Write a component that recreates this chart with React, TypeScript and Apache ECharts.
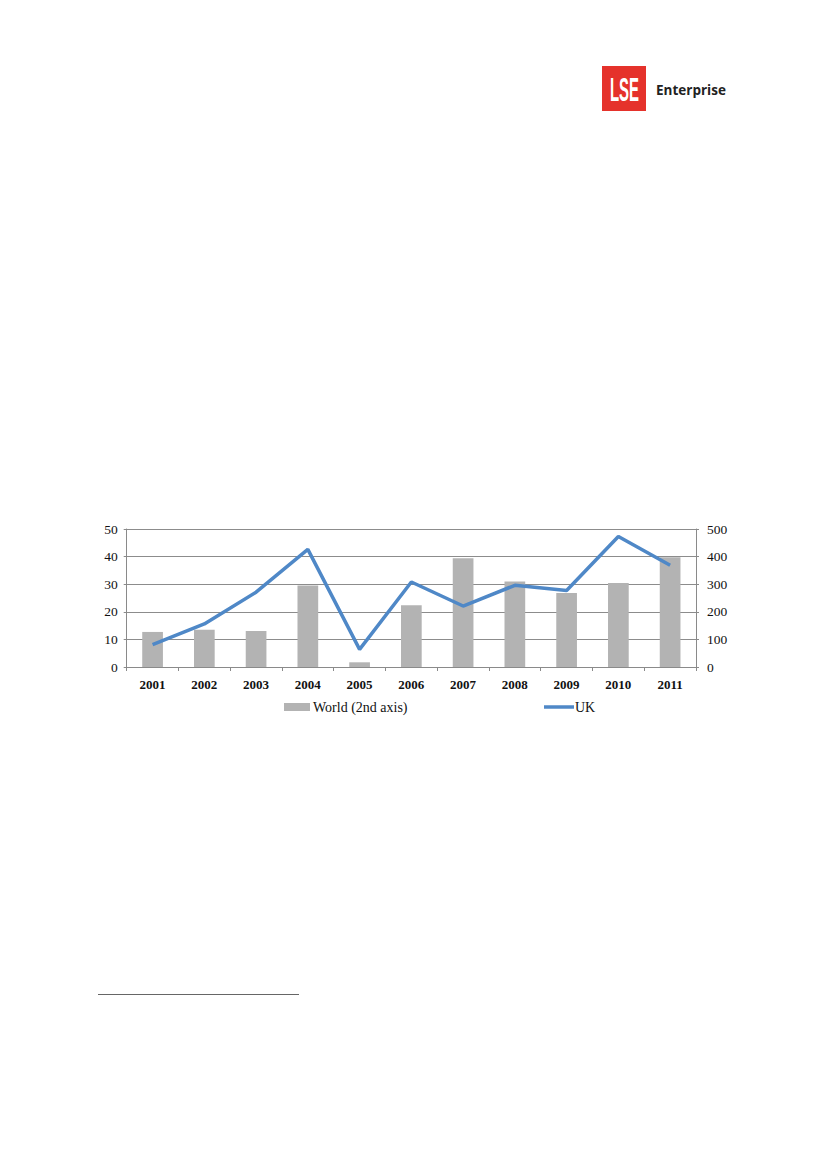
import React, { useEffect, useRef } from "react";
import * as echarts from "echarts";

const years = ["2001", "2002", "2003", "2004", "2005", "2006", "2007", "2008", "2009", "2010", "2011"];
const worldValues = [127, 135, 130, 295, 17, 224, 394, 310, 268, 304, 398];
const ukValues = [8.1, 15.6, 27.1, 42.6, 6.4, 30.8, 22.1, 29.6, 27.7, 47.3, 36.9];
const leftTicks = { min: 0, max: 50, interval: 10 };
const rightTicks = { min: 0, max: 500, interval: 100 };
const legendNames = ["World (2nd axis)", "UK"];

const SERIF = "'Liberation Serif', 'Times New Roman', serif";

export default function App() {
  const ref = useRef<HTMLDivElement>(null);

  useEffect(() => {
    if (!ref.current) return;
    const chart = echarts.init(ref.current, undefined, { renderer: "svg" });
    const labelStyle = { fontFamily: SERIF, fontSize: 13, color: "#111111" };
    chart.setOption({
      animation: false,
      backgroundColor: "#ffffff",
      grid: { left: 126.7, right: 131, top: 529, bottom: 502, containLabel: false },
      legend: [
        {
          data: [{ name: legendNames[0], icon: "rect" }],
          left: 279,
          top: 695,
          itemWidth: 26,
          itemHeight: 8,
          itemGap: 0,
          textStyle: { ...labelStyle, fontSize: 14, padding: [0, 0, 0, -2] },
        },
        {
          data: [{ name: legendNames[1], icon: "rect" }],
          left: 539,
          top: 695,
          itemWidth: 30,
          itemHeight: 3.5,
          textStyle: { ...labelStyle, fontSize: 14, padding: [0, 0, 0, -4] },
        },
      ],
      xAxis: {
        type: "category",
        data: years,
        axisLine: { lineStyle: { color: "#8a8a8a", width: 1 } },
        axisTick: { show: true, length: 4, interval: 0, lineStyle: { color: "#8a8a8a" } },
        axisLabel: { ...labelStyle, fontWeight: "bold", margin: 11, interval: 0 },
      },
      yAxis: [
        {
          type: "value",
          ...leftTicks,
          position: "left",
          axisLine: { show: true, lineStyle: { color: "#8a8a8a", width: 1 } },
          axisTick: { show: true, length: 3, lineStyle: { color: "#8a8a8a" } },
          splitLine: { show: true, lineStyle: { color: "#8c8c8c", width: 1 } },
          axisLabel: { ...labelStyle, fontSize: 13.5, margin: 9 },
        },
        {
          type: "value",
          ...rightTicks,
          position: "right",
          axisLine: { show: true, lineStyle: { color: "#8a8a8a", width: 1 } },
          axisTick: { show: true, length: 3, lineStyle: { color: "#8a8a8a" } },
          splitLine: { show: false },
          axisLabel: { ...labelStyle, fontSize: 13.5, margin: 11 },
        },
      ],
      series: [
        {
          name: legendNames[0],
          type: "bar",
          yAxisIndex: 1,
          data: worldValues,
          barWidth: "40%",
          itemStyle: { color: "#b3b3b3" },
          z: 2,
        },
        {
          name: legendNames[1],
          type: "line",
          yAxisIndex: 0,
          data: ukValues,
          symbol: "none",
          lineStyle: { color: "#4f88c7", width: 3.5 },
          itemStyle: { color: "#4f88c7" },
          z: 3,
        },
      ],
      graphic: [
        {
          type: "rect",
          shape: { x: 602, y: 66, width: 44, height: 45 },
          style: { fill: "#e5322b" },
        },
        {
          type: "text",
          x: 624.5,
          y: 89,
          scaleX: 0.44,
          style: {
            text: "LSE",
            fill: "#ffffff",
            font: "bold 34px 'Liberation Sans', Arial, sans-serif",
            align: "center",
            verticalAlign: "middle",
          },
        },
        {
          type: "text",
          x: 656,
          y: 90,
          style: {
            text: "Enterprise",
            fill: "#222222",
            font: "bold 13.5px 'Open Sans', 'Noto Sans', sans-serif",
            align: "left",
            verticalAlign: "middle",
          },
        },
        {
          type: "line",
          shape: { x1: 98, y1: 994.5, x2: 299, y2: 994.5 },
          style: { stroke: "#666666", lineWidth: 1.2 },
        },
      ],
    });
    return () => chart.dispose();
  }, []);

  return (
    <div
      ref={ref}
      style={{ position: "absolute", left: 0, top: 0, width: 827, height: 1169 }}
    />
  );
}
